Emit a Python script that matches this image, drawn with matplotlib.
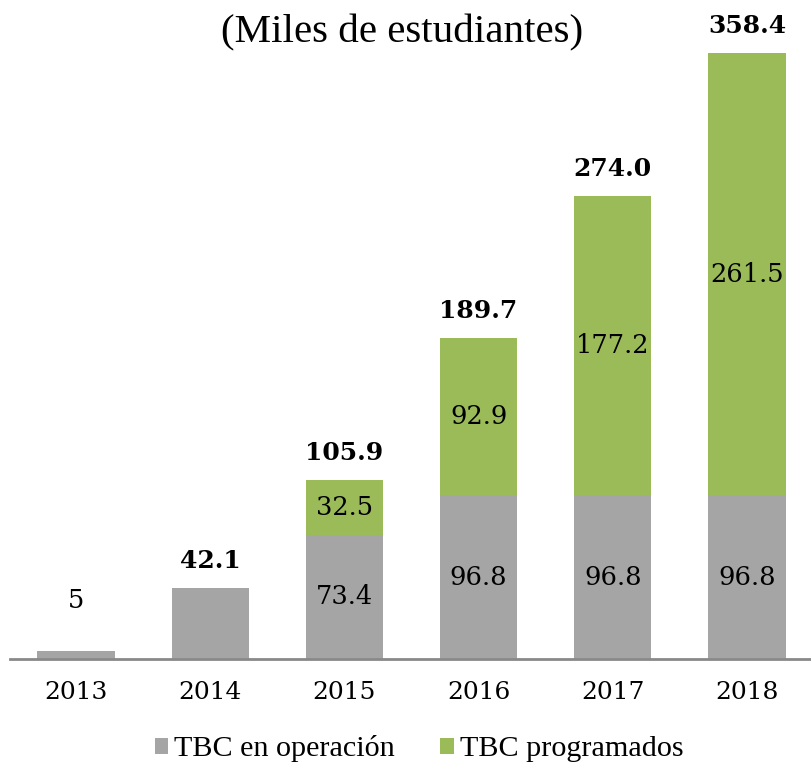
import numpy as np
import matplotlib.pyplot as plt

years = ['2013', '2014', '2015', '2016', '2017', '2018']
operacion = [5, 42.1, 73.4, 96.8, 96.8, 96.8]
programados = [0, 0, 32.5, 92.9, 177.2, 261.5]
totales = ['5', '42.1', '105.9', '189.7', '274.0', '358.4']

gris = '#A5A5A5'
verde = '#9BBB59'
num_font = 'DejaVu Serif'
txt_font = 'Liberation Serif'

fig = plt.figure(figsize=(8.11, 7.65), dpi=100)
ax = fig.add_axes([10 / 811, 106 / 765, 801 / 811, 659 / 765])

x = np.arange(len(years))
w = 0.575
op = np.array(operacion)
pr = np.array(programados)
ax.bar(x, op, w, color=gris, linewidth=0, label='TBC en operación')
ax.bar(x, pr, w, bottom=op, color=verde, linewidth=0, label='TBC programados')

# etiquetas dentro de las barras
for i in range(len(years)):
    if i >= 2:
        ax.text(x[i], op[i] / 2, f'{op[i]:.1f}', ha='center', va='center',
                fontsize=18.5, family=num_font)
    if pr[i] > 0:
        ax.text(x[i], op[i] + pr[i] / 2, f'{pr[i]:.1f}', ha='center', va='center',
                fontsize=18.5, family=num_font)

# totales
for i in range(len(years)):
    top = op[i] + pr[i]
    if i == 0:
        ax.annotate(totales[i], (x[i], top), xytext=(0, 36), textcoords='offset points',
                    ha='center', va='center', fontsize=18.5, family=num_font)
    else:
        ax.annotate(totales[i], (x[i], top), xytext=(0, 19.5), textcoords='offset points',
                    ha='center', va='center', fontsize=18, family=num_font,
                    fontweight='bold')

ax.set_xlim(-0.492, 5.477)
ax.set_ylim(0, 389.7)
ax.set_xticks(x)
ax.set_xticklabels(years, fontsize=18, family=num_font)
ax.tick_params(axis='x', length=0, pad=16)
ax.set_yticks([])
for s in ['left', 'right', 'top']:
    ax.spines[s].set_visible(False)
ax.spines['bottom'].set_color('#898989')
ax.spines['bottom'].set_linewidth(2)

fig.text(402 / 811, 1 - 33 / 765, '(Miles de estudiantes)', ha='center', va='center',
         fontsize=29.5, family=txt_font)

fig.legend(loc='center', bbox_to_anchor=(419 / 811, 1 - 749 / 765), ncol=2,
           frameon=False, handlelength=0.45, handleheight=0.45, handletextpad=0.2,
           columnspacing=1.5, prop={'family': txt_font, 'size': 21.7})

fig.savefig('out.png', dpi=100)
